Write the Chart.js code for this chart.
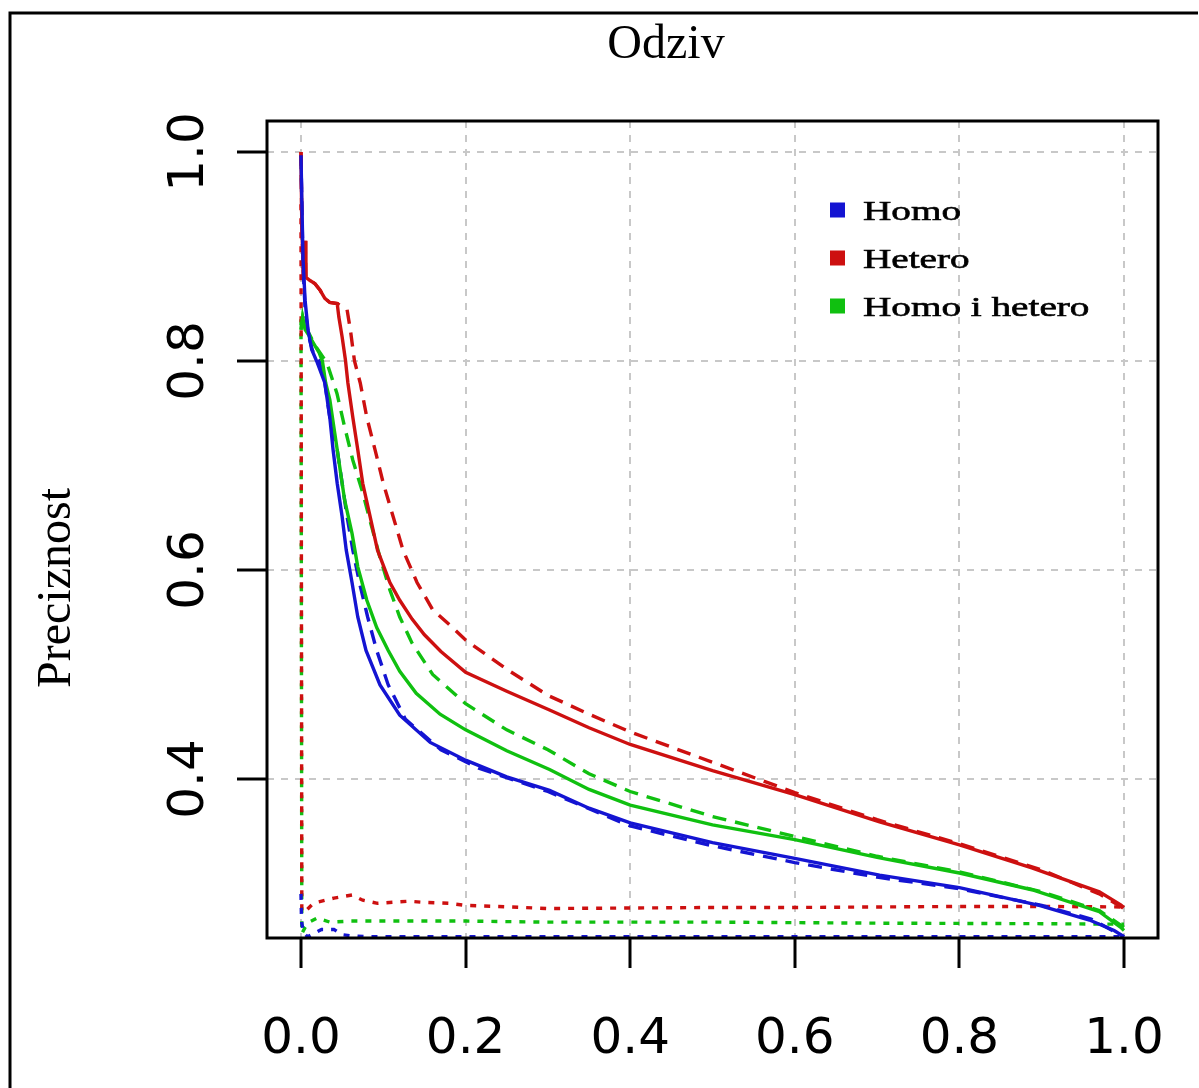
<!DOCTYPE html>
<html><head><meta charset="utf-8">
<script src="https://cdn.jsdelivr.net/npm/chart.js@4.4.1/dist/chart.umd.min.js"></script>
<style>html,body{margin:0;padding:0;background:#fff;}#wrap{width:1199px;height:1088px;}</style>
</head><body><div id="wrap"><canvas id="c" width="1199" height="1088"></canvas></div>
<script>
// ---- data ----
const chartTitle = 'Odziv';
const yAxisTitle = 'Preciznost';
const xTicks = [0, 0.2, 0.4, 0.6, 0.8, 1.0];
const xTickLabels = ['0.0', '0.2', '0.4', '0.6', '0.8', '1.0'];
const yTicks = [0.4, 0.6, 0.8, 1.0];
const yTickLabels = ['0.4', '0.6', '0.8', '1.0'];
const seriesNames = ['Homo', 'Hetero', 'Homo i hetero'];

// Homo (blue)
const homoSolidX = [0, 0.001, 0.0025, 0.005, 0.0085, 0.013, 0.019, 0.029, 0.035, 0.039, 0.044, 0.050, 0.055, 0.062, 0.069, 0.079, 0.096, 0.120, 0.157, 0.2, 0.25, 0.302, 0.35, 0.4, 0.5, 0.6, 0.703, 0.8, 0.897, 0.958, 0.988, 1.0];
const homoSolidY = [0.997, 0.954, 0.897, 0.858, 0.83, 0.811, 0.8, 0.779, 0.746, 0.715, 0.683, 0.651, 0.619, 0.588, 0.555, 0.523, 0.49, 0.461, 0.435, 0.418, 0.402, 0.389, 0.372, 0.358, 0.339, 0.324, 0.308, 0.296, 0.279, 0.265, 0.255, 0.249];
const homoDashX = [0, 0.001, 0.0025, 0.005, 0.009, 0.014, 0.022, 0.029, 0.035, 0.044, 0.05, 0.056, 0.063, 0.071, 0.081, 0.092, 0.106, 0.127, 0.17, 0.217, 0.3, 0.4, 0.5, 0.6, 0.7, 0.8, 0.9, 0.96, 1.0];
const homoDashY = [0.997, 0.95, 0.89, 0.85, 0.825, 0.81, 0.8, 0.779, 0.746, 0.715, 0.683, 0.651, 0.619, 0.588, 0.555, 0.523, 0.49, 0.457, 0.428, 0.41, 0.388, 0.355, 0.336, 0.32, 0.306, 0.295, 0.279, 0.266, 0.249];
const homoDotX = [0, 0.0005, 0.001, 0.003, 0.008, 0.015, 0.025, 0.04, 0.05, 0.06, 0.08, 0.1, 0.2, 0.4, 0.6, 0.8, 1.0];
const homoDotY = [0.29, 0.27, 0.262, 0.253, 0.249, 0.252, 0.256, 0.256, 0.251, 0.25, 0.249, 0.249, 0.249, 0.249, 0.249, 0.249, 0.249];

// Hetero (red)
const heteroSolidX = [0, 0.001, 0.003, 0.005, 0.006, 0.011, 0.017, 0.023, 0.029, 0.035, 0.044, 0.046, 0.05, 0.054, 0.057, 0.063, 0.069, 0.075, 0.084, 0.093, 0.108, 0.12, 0.135, 0.15, 0.17, 0.2, 0.25, 0.302, 0.35, 0.4, 0.5, 0.6, 0.703, 0.8, 0.888, 0.97, 0.996, 1.0];
const heteroSolidY = [1.0, 0.93, 0.88, 0.915, 0.88, 0.877, 0.874, 0.868, 0.86, 0.856, 0.855, 0.842, 0.823, 0.801, 0.779, 0.746, 0.715, 0.683, 0.651, 0.619, 0.588, 0.571, 0.553, 0.538, 0.522, 0.502, 0.484, 0.466, 0.449, 0.433, 0.408, 0.385, 0.359, 0.337, 0.315, 0.292, 0.2795, 0.277];
const heteroDashX = [0, 0.001, 0.003, 0.005, 0.006, 0.011, 0.017, 0.023, 0.029, 0.035, 0.044, 0.05, 0.056, 0.06, 0.065, 0.072, 0.08, 0.09, 0.1, 0.112, 0.124, 0.141, 0.16, 0.184, 0.2, 0.25, 0.3, 0.35, 0.4, 0.5, 0.6, 0.7, 0.8, 0.9, 0.97, 1.0];
const heteroDashY = [1.0, 0.93, 0.88, 0.915, 0.88, 0.877, 0.874, 0.868, 0.86, 0.856, 0.855, 0.852, 0.849, 0.83, 0.8, 0.779, 0.746, 0.715, 0.683, 0.651, 0.619, 0.588, 0.562, 0.545, 0.533, 0.505, 0.48, 0.462, 0.445, 0.416, 0.387, 0.361, 0.338, 0.313, 0.29, 0.276];
const heteroDotX = [0, 0.001, 0.005, 0.015, 0.04, 0.062, 0.075, 0.093, 0.112, 0.13, 0.148, 0.18, 0.2, 0.24, 0.3, 0.4, 0.5, 0.6, 0.7, 0.8, 0.9, 1.0];
const heteroDotY = [0.95, 0.273, 0.273, 0.281, 0.286, 0.289, 0.284, 0.281, 0.282, 0.283, 0.282, 0.281, 0.279, 0.278, 0.276, 0.2765, 0.277, 0.277, 0.2775, 0.278, 0.278, 0.2775];

// Homo i hetero (green)
const bothSolidX = [0, 0.002, 0.005, 0.01, 0.016, 0.022, 0.026, 0.03, 0.035, 0.041, 0.047, 0.053, 0.062, 0.069, 0.08, 0.092, 0.106, 0.12, 0.14, 0.169, 0.2, 0.25, 0.302, 0.35, 0.4, 0.5, 0.6, 0.7, 0.8, 0.888, 0.97, 0.996, 1.0];
const bothSolidY = [0.83, 0.842, 0.83, 0.824, 0.816, 0.808, 0.8, 0.779, 0.763, 0.731, 0.699, 0.667, 0.635, 0.603, 0.571, 0.545, 0.523, 0.503, 0.482, 0.462, 0.447, 0.427, 0.409, 0.39, 0.375, 0.356, 0.342, 0.325, 0.31, 0.294, 0.273, 0.258, 0.255];
const bothDashX = [0, 0.002, 0.005, 0.01, 0.017, 0.0316, 0.0437, 0.053, 0.063, 0.075, 0.086, 0.096, 0.108, 0.12, 0.135, 0.16, 0.2, 0.25, 0.3, 0.35, 0.4, 0.5, 0.6, 0.7, 0.8, 0.9, 0.97, 1.0];
const bothDashY = [0.83, 0.842, 0.832, 0.826, 0.815, 0.798, 0.769, 0.737, 0.705, 0.674, 0.641, 0.612, 0.581, 0.555, 0.53, 0.5, 0.472, 0.447, 0.428, 0.405, 0.388, 0.364, 0.345, 0.326, 0.311, 0.292, 0.274, 0.258];
const bothDotX = [0, 0.001, 0.005, 0.01, 0.02, 0.035, 0.06, 0.1, 0.2, 0.3, 0.5, 0.7, 0.9, 1.0];
const bothDotY = [0.84, 0.252, 0.258, 0.263, 0.267, 0.263, 0.264, 0.264, 0.264, 0.263, 0.263, 0.262, 0.2615, 0.261];

// ---- styles ----
const BLUE = '#1414d2', RED = '#cd1010', GREEN = '#10c010';
const DASHED = [14, 9], DOTTED = [6, 8];

function pts(xs, ys) { return xs.map((x, i) => ({ x: x, y: ys[i] })); }
function ds(label, xs, ys, color, dash) {
  return { label: label, data: pts(xs, ys), borderColor: color, backgroundColor: color,
           borderWidth: 3.4, borderDash: dash, pointRadius: 0, fill: false, tension: 0 };
}

const datasets = [
  ds(seriesNames[0], homoSolidX, homoSolidY, BLUE, []),
  ds(seriesNames[1], heteroSolidX, heteroSolidY, RED, []),
  ds(seriesNames[2], bothSolidX, bothSolidY, GREEN, []),
  ds(seriesNames[0] + ' (dashed)', homoDashX, homoDashY, BLUE, DASHED),
  ds(seriesNames[1] + ' (dashed)', heteroDashX, heteroDashY, RED, DASHED),
  ds(seriesNames[2] + ' (dashed)', bothDashX, bothDashY, GREEN, DASHED),
  ds(seriesNames[0] + ' (dotted)', homoDotX, homoDotY, BLUE, DOTTED),
  ds(seriesNames[1] + ' (dotted)', heteroDotX, heteroDotY, RED, DOTTED),
  ds(seriesNames[2] + ' (dotted)', bothDotX, bothDotY, GREEN, DOTTED)
];
const legendColors = [BLUE, RED, GREEN];

const decor = {
  id: 'decor',
  afterDraw(chart) {
    const ctx = chart.ctx, a = chart.chartArea;
    const xs = chart.scales.x, ys = chart.scales.y;
    ctx.save();
    // outer frame (top & left)
    ctx.strokeStyle = '#000'; ctx.lineWidth = 3;
    ctx.beginPath(); ctx.moveTo(10, 1088); ctx.lineTo(10, 13); ctx.lineTo(1198, 13); ctx.stroke();
    // plot box
    ctx.strokeRect(a.left, a.top, a.right - a.left, a.bottom - a.top);
    // title
    ctx.fillStyle = '#000';
    ctx.font = '48px "Liberation Serif", "Times New Roman", serif';
    ctx.textAlign = 'center'; ctx.textBaseline = 'alphabetic';
    ctx.fillText(chartTitle, 666, 58);
    // y axis title
    ctx.save(); ctx.translate(70, 588); ctx.rotate(-Math.PI / 2);
    ctx.fillText(yAxisTitle, 0, 0); ctx.restore();
    // tick labels
    ctx.font = '50px "DejaVu Sans", sans-serif';
    xTicks.forEach((v, i) => { ctx.fillText(xTickLabels[i], xs.getPixelForValue(v), 1053); });
    yTicks.forEach((v, i) => {
      ctx.save(); ctx.translate(203, ys.getPixelForValue(v)); ctx.rotate(-Math.PI / 2);
      ctx.fillText(yTickLabels[i], 0, 0); ctx.restore();
    });
    // legend
    ctx.textAlign = 'left';
    ctx.font = '28px "Liberation Serif", "Times New Roman", serif';
    seriesNames.forEach((n, i) => {
      const cy = 210 + i * 48;
      ctx.fillStyle = legendColors[i];
      ctx.fillRect(830, cy - 7.5, 15, 15);
      ctx.fillStyle = '#000';
      ctx.save(); ctx.translate(863, cy + 10); ctx.scale(1.4, 1);
      ctx.lineWidth = 0.6; ctx.strokeStyle = '#000';
      ctx.fillText(n, 0, 0); ctx.strokeText(n, 0, 0); ctx.restore();
    });
    ctx.restore();
  }
};

const gridOpts = { color: '#c8c8c8', lineWidth: 2, tickColor: '#000', tickWidth: 3, tickLength: 30, tickBorderDash: [] };

new Chart(document.getElementById('c'), {
  type: 'line',
  data: { datasets: datasets },
  options: {
    responsive: false, animation: false,
    layout: { padding: { top: 121, right: 41, left: 0, bottom: 0 } },
    plugins: { legend: { display: false }, tooltip: { enabled: false }, title: { display: false } },
    scales: {
      x: { type: 'linear', min: -0.0413, max: 1.0413,
           afterBuildTicks: s => { s.ticks = xTicks.map(v => ({ value: v })); },
           afterFit: s => { s.height = 150; },
           ticks: { display: false }, grid: gridOpts, border: { display: false, dash: [7, 7] } },
      y: { type: 'linear', min: 0.2478, max: 1.0297,
           afterBuildTicks: s => { s.ticks = yTicks.map(v => ({ value: v })); },
           afterFit: s => { s.width = 267; },
           ticks: { display: false }, grid: gridOpts, border: { display: false, dash: [7, 7] } }
    }
  },
  plugins: [decor]
});
</script></body></html>
